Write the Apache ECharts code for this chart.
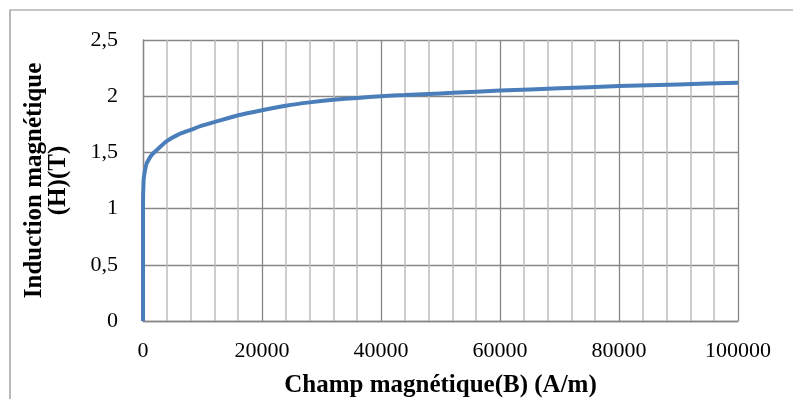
<!DOCTYPE html>
<html>
<head>
<meta charset="utf-8">
<script src="https://cdn.jsdelivr.net/npm/echarts@6/dist/echarts.min.js"></script>
<style>
  html, body { margin: 0; padding: 0; background: #fff; }
  #chart-one { width: 793px; height: 399px; }
</style>
</head>
<body>
<div id="chart-one"></div>
<script>
// champ magnetique B (A/m)
var champB = [0, 0, 100, 300, 600, 1000, 1500, 2500, 4000, 6000, 8000, 10000, 12000, 16000, 20000,
	24000, 28000, 32000, 36000, 40000, 44000, 48000, 52000, 60000, 70000, 80000, 90000, 100000];
// induction H (T)
var inductionH = [0, 1.0, 1.25, 1.33, 1.40, 1.44, 1.48, 1.53, 1.60, 1.66, 1.70, 1.74, 1.77, 1.83, 1.875,
	1.915, 1.945, 1.968, 1.985, 2.0, 2.01, 2.02, 2.03, 2.05, 2.07, 2.09, 2.105, 2.12];

var LinesChart = function(){
	this.mychart = echarts.init(document.getElementById('chart-one'));

	this.initChart = function(){
		var data = champB.map(function(b, i){ return [b, inductionH[i]]; });
		var font = 'Liberation Serif';

		var option = {
			animation: false,
			graphic: [{
				type: 'rect',
				shape: {x: 10, y: 10, width: 800, height: 400},
				style: {fill: 'none', stroke: '#8c8c8c', lineWidth: 1.2}
			}],
			grid: {left: 143, top: 40, right: 55, bottom: 78, outerBoundsMode: 'none'},
			xAxis: {
				type: 'value',
				min: 0, max: 100000, interval: 20000,
				name: 'Champ magnétique(B) (A/m)',
				nameLocation: 'middle',
				nameGap: 52,
				nameTextStyle: {fontFamily: font, fontWeight: 'bold', fontSize: 25, color: '#000'},
				axisLine: {lineStyle: {color: '#878787', width: 1.3}},
				axisTick: {show: false},
				axisLabel: {
					fontFamily: font, fontSize: 22, color: '#000', margin: 19,
					formatter: function(v){ return String(v); }
				},
				splitLine: {show: true, lineStyle: {color: '#878787', width: 1.3}},
				minorTick: {show: false, splitNumber: 5},
				minorSplitLine: {show: true, lineStyle: {color: '#bdbdbd', width: 1.5}}
			},
			yAxis: {
				type: 'value',
				min: 0, max: 2.5, interval: 0.5,
				name: 'Induction magnétique\n(H)(T)',
				nameLocation: 'middle',
				nameGap: 72,
				nameTextStyle: {fontFamily: font, fontWeight: 'bold', fontSize: 25, color: '#000', lineHeight: 24},
				axisLine: {show: true, lineStyle: {color: '#878787', width: 1.3}},
				axisTick: {show: false},
				axisLabel: {
					fontFamily: font, fontSize: 22, color: '#000', margin: 25,
					formatter: function(v){ return String(v).replace('.', ','); }
				},
				splitLine: {show: true, lineStyle: {color: '#878787', width: 1.3}}
			},
			series: [{
				type: 'line',
				data: data,
				showSymbol: false,
				smooth: 0.2,
				lineStyle: {color: '#4a7ebb', width: 4}
			}]
		};

		this.mychart.setOption(option);
	}
}

var chart = new LinesChart();
chart.initChart();
</script>
</body>
</html>
